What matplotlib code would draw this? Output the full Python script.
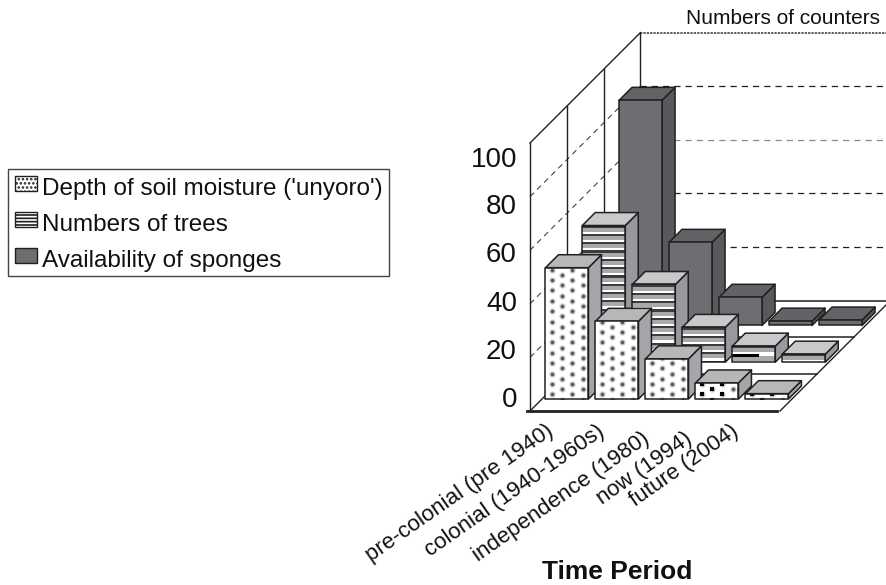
import numpy as np
import matplotlib
matplotlib.use("Agg")
import matplotlib.pyplot as plt
from matplotlib.patches import Polygon, Rectangle, Patch

plt.rcParams['font.family'] = ['Liberation Sans', 'DejaVu Sans']
plt.rcParams['hatch.linewidth'] = 1.2

# ---- data -----------------------------------------------------------------
categories = ['pre-colonial (pre 1940)', 'colonial (1940-1960s)',
              'independence (1980)', 'now (1994)', 'future (2004)']
series_names = ["Depth of soil moisture ('unyoro')", 'Numbers of trees',
                'Availability of sponges']
soil_moisture = [49, 29, 15, 6, 2]
trees = [51, 29, 13, 6, 3]
sponges = [84, 31, 10.5, 1.6, 2]
tick_values = [0, 20, 40, 60, 80, 100]
depth_title = 'Numbers of counters'
x_title = 'Time Period'

# ---- geometry of the oblique axes ------------------------------------------
W, H = 887, 585
PX_CAT = 50.0       # pixels per category
PX_VAL = 2.68       # pixels per value unit
X0, Y0 = 530.0, 411.0  # pixel location of origin
DEPTH_PX = 36.8     # oblique shift per series
DX = DEPTH_PX / PX_CAT
DY = DEPTH_PX / PX_VAL
VMAX = 100
INK = '#231f20'

fig = plt.figure(figsize=(W / 100, H / 100), dpi=100, facecolor='white')
ax = fig.add_axes([0, 0, 1, 1])
ax.set_xlim(-X0 / PX_CAT, (W - X0) / PX_CAT)
ax.set_ylim(-(H - Y0) / PX_VAL, Y0 / PX_VAL)
ax.axis('off')


def P(c, d, v):
    return (c + d * DX, v + d * DY)


def ftext(x, y, s, **kw):
    return fig.text(x / W, 1 - y / H, s, color=kw.pop('color', '#111111'), **kw)


z = [1]


def nz():
    z[0] += 1
    return z[0]


def line(pts, **kw):
    xs, ys = zip(*pts)
    kw.setdefault('color', INK)
    kw.setdefault('lw', 1.0)
    ax.plot(xs, ys, zorder=nz(), solid_capstyle='projecting', **kw)


n_cat, n_ser = len(categories), 3
# value gridlines on walls
dash = (0, (5.0, 4.0))
for v in tick_values[1:-1]:
    c = '#8a8a8a' if v == 60 else INK
    line([P(0, 0, v), P(0, n_ser, v)], ls=dash, lw=0.8, color='#444444')
    line([P(0, n_ser, v), P(n_cat + 3, n_ser, v)], ls=dash, lw=0.9, color=c)
line([P(0, n_ser, VMAX), P(n_cat + 3, n_ser, VMAX)], ls=(0, (1.5, 0.7)), lw=1.1, color='#333333')
# wall verticals and wall top
for s in range(n_ser + 1):
    line([P(0, s, 0), P(0, s, VMAX)], lw=1.0)
line([P(0, 0, VMAX), P(0, n_ser, VMAX)], lw=1.0)
line([P(0, 0, 0), P(0, n_ser, 0)], lw=1.0)
# floor
for s in range(1, n_ser + 1):
    line([P(0, s, 0), P(n_cat if s < n_ser else n_cat + 3, s, 0)], lw=1.1)
line([P(n_cat, 0, 0), P(n_cat, n_ser, 0)], lw=1.0)
line([P(-0.05, 0, 0), P(n_cat - 0.06, 0, 0)], lw=2.0)


def dots(rect, x0, y0, w, h, dark=False):
    step_x, step_y = 10.4 / PX_CAT, 10.4 / PX_VAL
    xs, ys, flags = [], [], []
    for i in range(5):
        for j in range(-1, int(h / step_y) + 2):
            xs.append(x0 + (i + 0.58) * step_x)
            ys.append(y0 + (j + 0.5 * (i % 2) + 0.45) * step_y)
            flags.append(i)
    xs, ys, flags = map(np.array, (xs, ys, flags))
    halo = ax.scatter(xs, ys, s=20, c='#cbcbcd', linewidths=0, zorder=nz())
    halo.set_clip_path(rect)
    core = ax.scatter(xs, ys, s=6.5, c='#58585a', linewidths=0, zorder=nz())
    core.set_clip_path(rect)
    if dark:
        m = flags <= 2
        sq = ax.scatter(xs[m], ys[m], s=10, c='#000000', marker='s', linewidths=0, zorder=nz())
        sq.set_clip_path(rect)


def stripes(rect, x0, y0, w, val):
    period = 8.3
    n = int(np.ceil(val * PX_VAL / period)) + 1
    for k in range(n):
        yt = y0 + val - k * period / PX_VAL
        g = ax.add_patch(Rectangle((x0, yt - 6.2 / PX_VAL), w, 4.2 / PX_VAL,
                                   fc='#a8a9ab', ec='none', zorder=nz()))
        g.set_clip_path(rect)
        frac, col = (0.62, '#000000') if (val < 8 and k >= 1) else (1.0, '#3c3c3e')
        d = ax.add_patch(Rectangle((x0, yt - 2.2 / PX_VAL), w * frac, 2.2 / PX_VAL,
                                   fc=col, ec='none', zorder=nz()))
        d.set_clip_path(rect)


FACE = {0: 'white', 1: 'white', 2: '#6d6e71'}
SIDE = {0: '#a4a6a9', 1: '#98999c', 2: '#58595b'}
TOP = {0: '#b6b7b9', 1: '#c8c9cb', 2: '#626366'}
BAR_W, BAR_GAP = 0.86, 0.07
D_START, D_LEN = 0.326, 0.352
all_series = [soil_moisture, trees, sponges]

for s in range(n_ser - 1, -1, -1):
    for i, val in enumerate(all_series[s]):
        c0, c1 = i + BAR_GAP, i + BAR_GAP + BAR_W
        d0, d1 = s + D_START, s + D_START + D_LEN
        kw = dict(ec=INK, lw=1.1, joinstyle='round')
        ax.add_patch(Polygon([P(c1, d0, 0), P(c1, d1, 0), P(c1, d1, val), P(c1, d0, val)],
                             fc=SIDE[s], zorder=nz(), **kw))
        ax.add_patch(Polygon([P(c0, d0, val), P(c1, d0, val), P(c1, d1, val), P(c0, d1, val)],
                             fc=TOP[s], zorder=nz(), **kw))
        x0, y0 = P(c0, d0, 0)
        rect = ax.add_patch(Rectangle((x0, y0), BAR_W, val, fc=FACE[s], ec='none', zorder=nz()))
        if s == 0:
            dots(rect, x0, y0, BAR_W, val, dark=val < 8)
        elif s == 1:
            stripes(rect, x0, y0, BAR_W, val)
        ax.add_patch(Rectangle((x0, y0), BAR_W, val, fc='none', zorder=nz(), **kw))

# ---- text -----------------------------------------------------------------
tick_px = [400, 352, 304, 255, 207, 160]
for v, yp in zip(tick_values, tick_px):
    ftext(517, yp, str(v), fontsize=20, ha='right', va='center')

label_end = [(545, 420), (596, 421), (641, 428), (684, 428), (730, 421)]
for lab, (xe, ye) in zip(categories, label_end):
    ftext(xe, ye, lab, fontsize=16, rotation=35, ha='right', va='top', rotation_mode='anchor')

ftext(542, 572, x_title, fontsize=19, fontweight='bold', ha='left', va='center')
ftext(880, 18, depth_title, fontsize=15, ha='right', va='center')

handles = [Patch(fc='white', ec=INK, hatch='....', lw=1.0),
           Patch(fc='white', ec=INK, hatch='-----', lw=1.0),
           Patch(fc='#6d6e71', ec=INK, lw=1.0)]
leg = fig.legend(handles, series_names, loc='upper left',
                 bbox_to_anchor=(8 / W, 1 - 168.5 / H), bbox_transform=fig.transFigure,
                 fontsize=17.5, frameon=True, fancybox=False, framealpha=1, edgecolor='#444444',
                 borderpad=0.28, borderaxespad=0, labelspacing=0.57, handlelength=0.92,
                 handleheight=0.55, handletextpad=0.18, labelcolor='#111111')
for t in leg.get_texts():
    t.set_y(-3)

fig.savefig('out.png', dpi=100, facecolor='white')
